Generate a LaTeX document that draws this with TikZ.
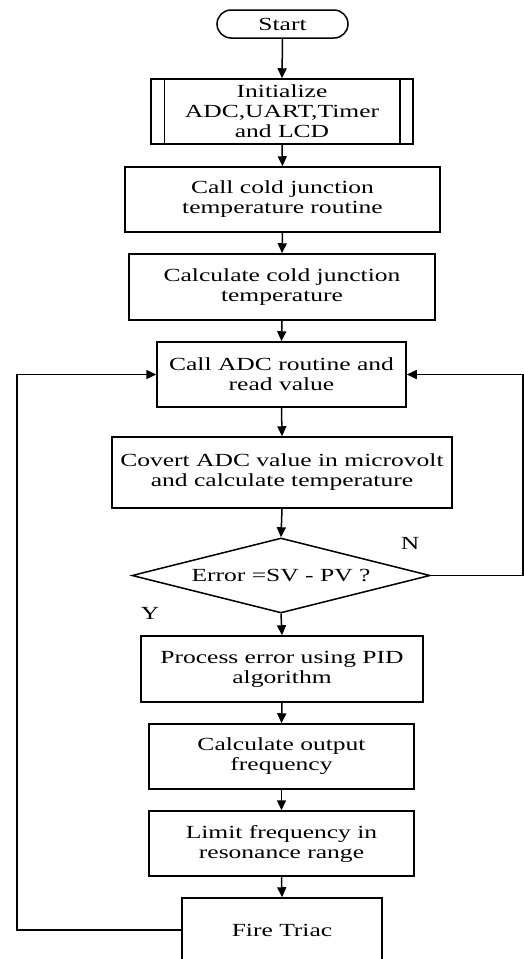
\documentclass[tikz,border=0pt]{standalone}
\usepackage{fontspec}
\setmainfont{Liberation Serif}[FakeStretch=1.38]
\usetikzlibrary{arrows.meta,shapes.geometric}
\tikzset{
  base/.style={draw, line width=1.5pt, align=center, inner sep=0pt,
    font=\fontsize{18.5pt}{20pt}\selectfont},
  proc/.style={base, rectangle},
  term/.style={base, rectangle, rounded corners=14pt},
  dec/.style={base, diamond, aspect=3.97},
  arr/.style={line width=1.5pt, -{Triangle[length=10pt,width=9pt]}},
  lbl/.style={font=\fontsize{18.5pt}{20pt}\selectfont, inner sep=0pt}
}
\begin{document}
\begin{tikzpicture}[x=1pt,y=1pt]
\useasboundingbox (0,0) rectangle (524,-959);
\clip (0,0) rectangle (524,-959);
\node[term, minimum width=131pt, minimum height=28pt] (start) at (282.5,-24) {Start};
\node[proc, minimum width=262pt, minimum height=65pt] (init) at (282,-111.5) {Initialize\\ADC,UART,Timer\\and LCD};
\draw[line width=1.5pt] ([xshift=14pt]init.north west) -- ([xshift=14pt]init.south west)
  ([xshift=-14pt]init.north east) -- ([xshift=-14pt]init.south east);
\node[proc, minimum width=315pt, minimum height=65pt] (b3) at (282.5,-199.5) {Call cold junction\\temperature routine};
\node[proc, minimum width=306pt, minimum height=66pt] (b4) at (282,-287) {Calculate cold junction\\temperature};
\node[proc, minimum width=249pt, minimum height=65pt] (b5) at (281.5,-374.5) {Call ADC routine and\\read value};
\node[proc, minimum width=340pt, minimum height=71pt] (b6) at (282,-472.5) {Covert ADC value in microvolt\\and calculate temperature};
\node[dec, minimum width=298pt, minimum height=75pt] (dia) at (281,-575.5) {Error =SV - PV ?};
\node[proc, minimum width=282pt, minimum height=66pt] (b7) at (282,-669) {Process error using PID\\algorithm};
\node[proc, minimum width=265pt, minimum height=65pt] (b8) at (281.5,-756.5) {Calculate output\\frequency};
\node[proc, minimum width=265pt, minimum height=65pt] (b9) at (281.5,-843.5) {Limit frequency in\\resonance range};
\node[proc, minimum width=200pt, minimum height=64pt] (b10) at (282,-930) {Fire Triac};
\node[lbl] (n) at (410,-543) {N};
\node[lbl] (y) at (150,-613) {Y};
\coordinate (lx) at (17,0);
\coordinate (rx) at (523,0);
\draw[arr] (start.south) -- (init.north);
\draw[arr] (init.south) -- (b3.north);
\draw[arr] (b3.south) -- (b4.north);
\draw[arr] (b4.south) -- (b5.north);
\draw[arr] (b5.south) -- (b6.north);
\draw[arr] (b6.south) -- (dia.north);
\draw[arr] (dia.south) -- (b7.north);
\draw[arr] (b7.south) -- (b8.north);
\draw[arr] (b8.south) -- (b9.north);
\draw[arr] (b9.south) -- (b10.north);
\draw[arr] (b10.west) -- (b10.west -| lx) |- (b5.west);
\draw[arr] (dia.east) -- (dia.east -| rx) |- (b5.east);
\end{tikzpicture}
\end{document}
